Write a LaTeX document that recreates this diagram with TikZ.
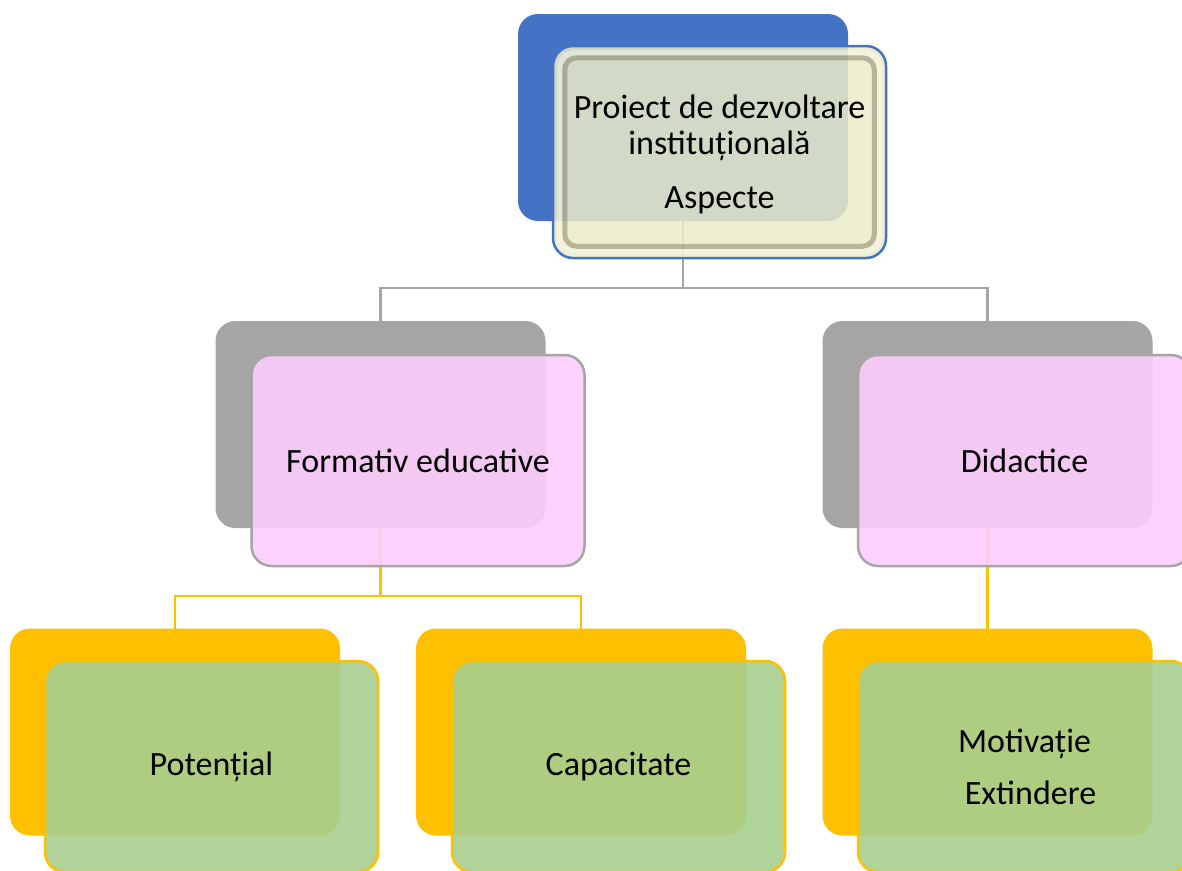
\documentclass[tikz,border=0pt]{standalone}
\usepackage{fontspec}
\setmainfont{Carlito}
\definecolor{cblue}{RGB}{68,114,196}
\definecolor{cgray}{RGB}{165,165,165}
\definecolor{cpink}{RGB}{252,206,252}
\definecolor{cyel}{RGB}{255,192,0}
\definecolor{cgreen}{RGB}{167,207,143}
\definecolor{cbeige}{RGB}{236,236,200}
\definecolor{cbevel}{RGB}{120,112,88}
\tikzset{
  backbox/.style={rectangle, rounded corners=20pt, minimum width=330pt, minimum height=207pt, inner sep=0pt},
  frontbox/.style={rectangle, rounded corners=20pt, minimum width=333pt, minimum height=211pt, inner sep=0pt, fill opacity=0.9, text opacity=1, line width=2.5pt, align=center, font=\fontsize{34}{36}\selectfont},
  gconn/.style={draw=cgray, line width=2.5pt},
  yconn/.style={draw=cyel, line width=2.5pt},
}
\begin{document}
\begin{tikzpicture}[x=1pt,y=-1pt]
\useasboundingbox (0,0) rectangle (1182,870);
\clip (0,0) rectangle (1182,870);
\fill[white] (0,0) rectangle (1182,870);
% back boxes
\node[backbox, fill=cblue] (b0) at (683,117.5) {};
\node[backbox, fill=cgray] (b1) at (380.5,424.5) {};
\node[backbox, fill=cgray] (b2) at (987.5,424.5) {};
\node[backbox, fill=cyel] (b3) at (175,732) {};
\node[backbox, fill=cyel] (b4) at (581,732) {};
\node[backbox, fill=cyel] (b5) at (987.5,732) {};
% connectors
\draw[gconn] (b0.south) -- ++(0,67) coordinate (h0) -| ([yshift=-3pt]b1.north);
\draw[gconn] (h0) -| ([yshift=-3pt]b2.north);
\draw[yconn] (b1.south) -- ++(0,68) coordinate (h1) -| ([yshift=-3pt]b3.north);
\draw[yconn] (h1) -| ([yshift=-3pt]b4.north);
\draw[yconn] (b2.south) -- ([yshift=-3pt]b5.north);
% front boxes
\node[frontbox, draw=cblue, fill=cbeige, fill opacity=0.85, minimum height=212pt] (f0) at (719.5,152) {};
\draw[draw=white, line width=5pt, rounded corners=15pt, opacity=0.35] ([xshift=8pt,yshift=-8pt]f0.north west) rectangle ([xshift=-8pt,yshift=8pt]f0.south east);
\draw[draw=cbevel, line width=5pt, rounded corners=12pt, opacity=0.45] ([xshift=13pt,yshift=-13pt]f0.north west) rectangle ([xshift=-13pt,yshift=13pt]f0.south east);
\node[align=center, font=\fontsize{34}{36}\selectfont] (t0) at (719.5,154.5) {Proiect de dezvoltare\\instituțională\\[18pt]Aspecte};
\node[frontbox, draw=cgray, fill=cpink] (f1) at (418,460.5) {Formativ educative};
\node[frontbox, draw=cgray, fill=cpink] (f2) at (1024.5,460.5) {Didactice};
\node[frontbox, draw=cyel, fill=cgreen] (f3) at (211.5,766.5) {Potențial};
\node[frontbox, draw=cyel, fill=cgreen] (f4) at (618.5,766.5) {Capacitate};
\node[frontbox, draw=cyel, fill=cgreen, font=\fontsize{34}{52}\selectfont] (f5) at (1024.5,766.5) {Motivație\\\hspace*{12pt}Extindere};
\end{tikzpicture}
\end{document}
